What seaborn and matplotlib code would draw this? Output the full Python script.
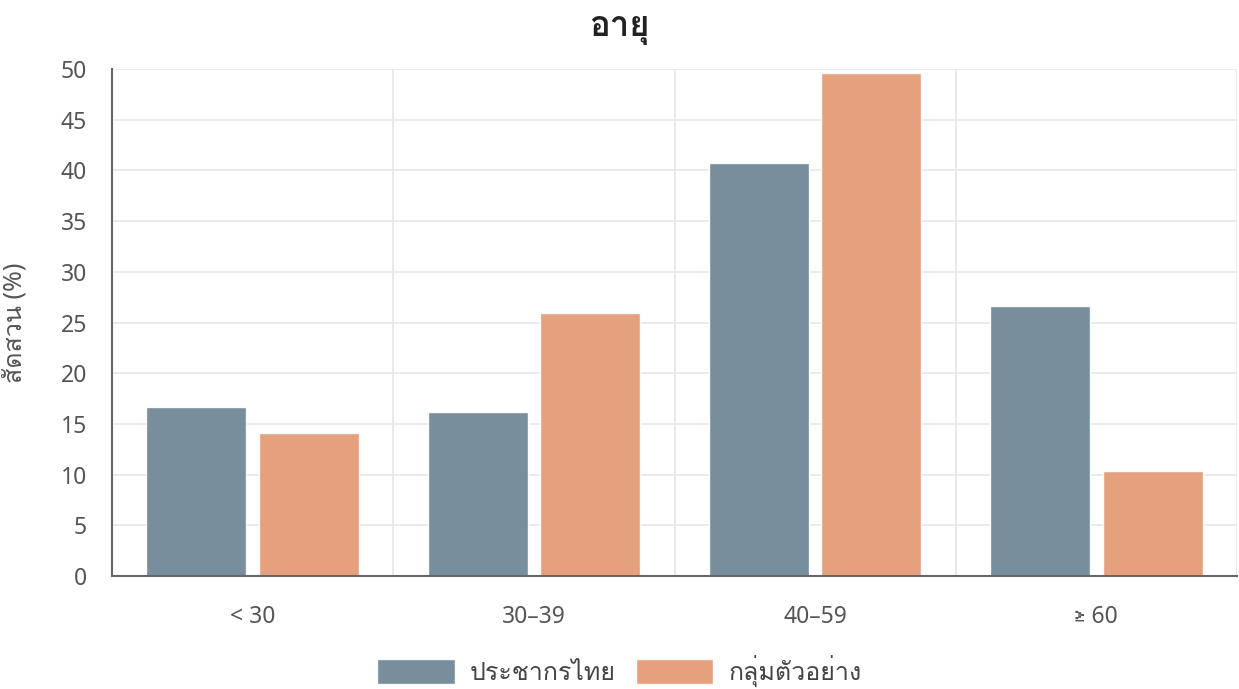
import seaborn as sns
import matplotlib.pyplot as plt
import pandas as pd
from matplotlib import font_manager
from matplotlib.ft2font import FT2Font
from matplotlib.ticker import FixedLocator

ages = ['< 30', '30–39', '40–59', '≥ 60']
thai_pop = [16.7, 16.2, 40.7, 26.6]
sample = [14.1, 25.9, 49.6, 10.4]
groups = ['ประชากรไทย', 'กลุ่มตัวอย่าง']
colors = ['#718897', '#E49C77']

df = pd.DataFrame({
    'age': ages * 2,
    'pct': thai_pop + sample,
    'group': [groups[0]] * len(ages) + [groups[1]] * len(ages),
})

# look for any installed family that has Thai glyphs
thai_fams = []
for f in font_manager.fontManager.ttflist:
    try:
        if ord('ก') in FT2Font(f.fname).get_charmap() and f.name not in thai_fams:
            thai_fams.append(f.name)
    except Exception:
        pass

sns.set_style("white")
plt.rcParams['font.family'] = ['Noto Sans'] + thai_fams + ['DejaVu Sans']

fig = plt.figure(figsize=(12.39, 6.89), dpi=100)
ax = fig.add_axes([112/1239, 1-576/689, 1125/1239, 507/689])

sns.barplot(data=df, x='age', y='pct', hue='group', order=ages, hue_order=groups,
            palette=colors, saturation=1, width=0.8, gap=0.11, alpha=0.95, ax=ax)

ax.set_ylim(0, 50)
ax.set_xlim(-0.5, 3.5)
ax.set_yticks(range(0, 51, 5))
ax.xaxis.set_minor_locator(FixedLocator([-0.5, 0.5, 1.5, 2.5, 3.5]))
ax.grid(True, axis='y', which='major', color='#e6e6e6', lw=1.2)
ax.grid(True, axis='x', which='minor', color='#e6e6e6', lw=1.2)
ax.set_axisbelow(True)

ax.tick_params(axis='y', which='major', length=12, color='#e6e6e6', width=1.2,
               labelsize=16.5, labelcolor='#555555', pad=6)
ax.tick_params(axis='x', which='major', length=0, labelsize=16.5, labelcolor='#555555', pad=21)
ax.tick_params(axis='x', which='minor', length=10, color='#e6e6e6', width=1.2)

for s in ['top', 'right']:
    ax.spines[s].set_visible(False)
for s in ['left', 'bottom']:
    ax.spines[s].set_color('#666666')
    ax.spines[s].set_linewidth(1.5)

ax.set_xlabel('')
ax.set_ylabel('สัดส่วน (%)', fontsize=18, color='#555555')
ax.yaxis.set_label_coords(-(112-28)/1125, 0.5)

fig.suptitle('อายุ', x=0.5, y=1-28/689, va='center', fontsize=25, fontweight='bold', color='#222222')

sns.move_legend(ax, 'center', bbox_to_anchor=(0.5, 1-671/689), bbox_transform=fig.transFigure,
                ncol=2, frameon=False, title=None, fontsize=18, handlelength=3.1,
                handleheight=1.15, handletextpad=0.6, columnspacing=0.8)
for t in ax.get_legend().get_texts():
    t.set_color('#444444')

fig.savefig('out.png', dpi=100)
